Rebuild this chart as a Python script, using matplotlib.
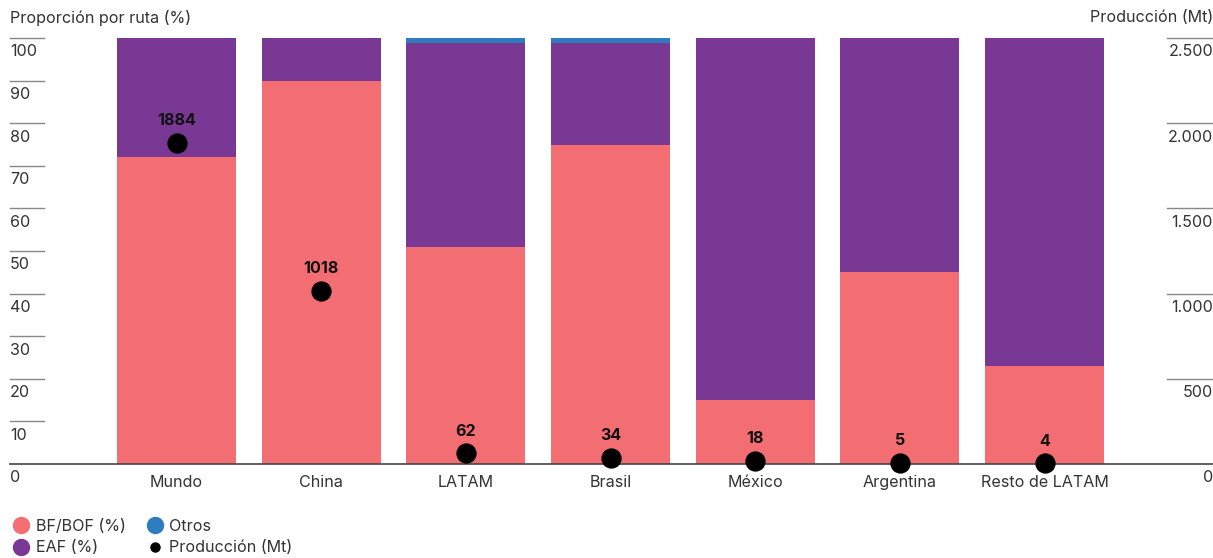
import matplotlib
matplotlib.use("Agg")
import matplotlib.pyplot as plt
from matplotlib.lines import Line2D
from matplotlib.transforms import blended_transform_factory
import numpy as np

plt.rcParams['font.family'] = ['Inter', 'DejaVu Sans']

categories = ["Mundo", "China", "LATAM", "Brasil", "México", "Argentina", "Resto de LATAM"]
bf_bof = [72, 90, 51, 75, 15, 45, 23]
eaf = [28, 10, 47.8, 23.8, 85, 55, 77]
otros = [0, 0, 1.2, 1.2, 0, 0, 0]
produccion = [1884, 1018, 62, 34, 18, 5, 4]
left_ticks = [0, 10, 20, 30, 40, 50, 60, 70, 80, 90, 100]
right_ticks = [0, 500, 1000, 1500, 2000, 2500]
right_labels = ["0", "500", "1.000", "1.500", "2.000", "2.500"]

c_bf = "#F26E73"
c_eaf = "#7A3895"
c_otros = "#2E7BC0"
c_txt = "#333333"
FS = 11.6

W, H = 1213, 558
fig = plt.figure(figsize=(W / 100, H / 100), dpi=100)
x0, x1 = 10, 1213
y0, y1 = 464, 38
ax = fig.add_axes([x0 / W, 1 - y0 / H, (x1 - x0) / W, (y0 - y1) / H])

c0, sp = 176.5, 144.67
xl = (x0 - c0) / sp
xr = (x1 - c0) / sp
x = np.arange(len(categories))
bw = 119 / sp

bf = np.array(bf_bof)
ea = np.array(eaf)
ot = np.array(otros)
ax.bar(x, bf, width=bw, color=c_bf, linewidth=0)
ax.bar(x, ea, width=bw, bottom=bf, color=c_eaf, linewidth=0)
ax.bar(x, ot, width=bw, bottom=bf + ea, color=c_otros, linewidth=0)
ax.set_xlim(xl, xr)
ax.set_ylim(0, 100)
for s in ax.spines.values():
    s.set_visible(False)
ax.set_xticks([])
ax.set_yticks([])

# baseline
ax.axhline(0, color="#444444", linewidth=1.2, zorder=5, clip_on=False)

# left ticks
trL = blended_transform_factory(ax.transAxes, ax.transData)
tick_w = 34 / (x1 - x0)
for v in left_ticks:
    if v > 0:
        ax.plot([0, tick_w], [v, v], transform=trL, color="#888888", lw=1.0, clip_on=False)
    ax.annotate(str(v), xy=(0, v), xycoords=trL, xytext=(0, -10), textcoords="offset points",
                ha="left", va="center", fontsize=FS, color=c_txt)

# right axis
ax2 = ax.twinx()
ax2.set_ylim(0, 2500)
ax2.set_xlim(xl, xr)
for s in ax2.spines.values():
    s.set_visible(False)
ax2.set_yticks([])
trR = blended_transform_factory(ax2.transAxes, ax2.transData)
rt_w = 46 / (x1 - x0)
for v, lab in zip(right_ticks, right_labels):
    if v > 0:
        ax2.plot([1 - rt_w, 1], [v, v], transform=trR, color="#888888", lw=1.0, clip_on=False)
    ax2.annotate(lab, xy=(1, v), xycoords=trR, xytext=(0, -10), textcoords="offset points",
                 ha="right", va="center", fontsize=FS, color=c_txt)

ax2.scatter(x, produccion, s=185, color="black", zorder=6, clip_on=False)
for xi, p in zip(x, produccion):
    ax2.annotate(str(p), xy=(xi, p), xytext=(0, 16), textcoords="offset points",
                 ha="center", va="center", fontsize=FS, fontweight="bold", color="#111111")

# category labels
for xi, c in zip(x, categories):
    ax.annotate(c, xy=(xi, 0), xytext=(0, -13.5), textcoords="offset points",
                ha="center", va="center", fontsize=FS, color=c_txt)

# axis titles
fig.text(10 / W, 1 - 18 / H, "Proporción por ruta (%)", ha="left", va="center", fontsize=FS, color=c_txt)
fig.text(1213 / W, 1 - 18 / H, "Producción (Mt)", ha="right", va="center", fontsize=FS, color=c_txt)

# legend
handles = [
    Line2D([], [], marker="o", linestyle="none", markersize=11.5, color=c_bf, label="BF/BOF (%)"),
    Line2D([], [], marker="o", linestyle="none", markersize=11.5, color=c_eaf, label="EAF (%)"),
    Line2D([], [], marker="o", linestyle="none", markersize=11.5, color=c_otros, label="Otros"),
    Line2D([], [], marker="o", linestyle="none", markersize=6.5, color="black", label="Producción (Mt)"),
]
leg = fig.legend(handles=handles, ncol=2, loc="lower left", bbox_to_anchor=(2 / W, -7 / H),
                 frameon=False, fontsize=FS, handletextpad=0.3, columnspacing=1.2,
                 labelspacing=0.4, handlelength=1.2, borderaxespad=0.2)
for t in leg.get_texts():
    t.set_color(c_txt)

fig.savefig("out.png", dpi=100)
